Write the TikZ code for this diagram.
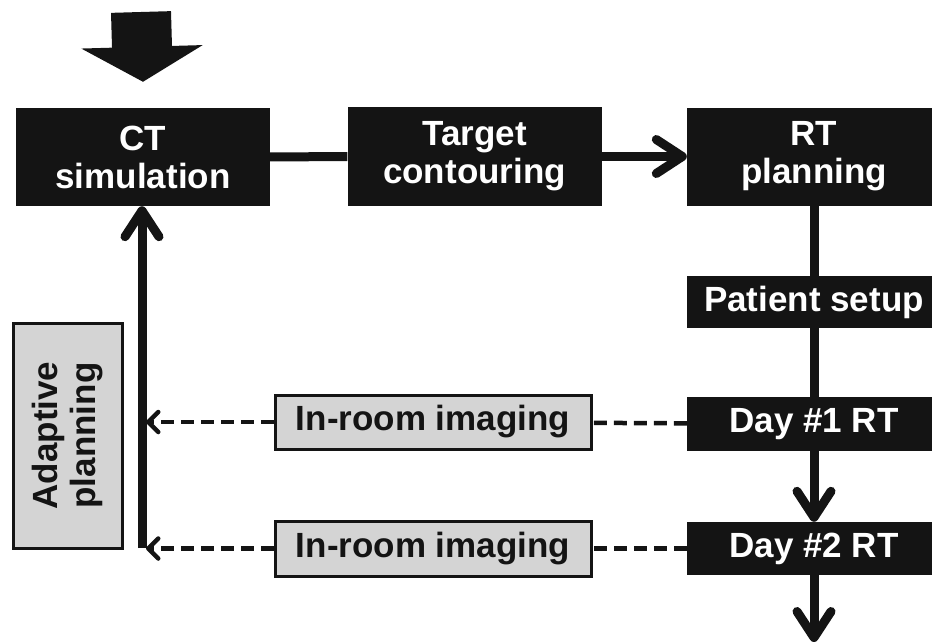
\documentclass[tikz,border=0pt]{standalone}
\usepackage{fontspec}
\setmainfont{Liberation Sans}
\usetikzlibrary{arrows.meta, positioning, calc}

\definecolor{boxblack}{HTML}{141414}
\definecolor{boxgray}{HTML}{D4D4D4}

\newcommand{\boxfont}{\fontsize{35}{38}\selectfont\bfseries}

\tikzset{
	stepbox/.style={fill=boxblack, text=white, font=\boxfont, align=center, inner sep=0pt, minimum width=254pt},
	imagebox/.style={draw=boxblack, line width=3pt, fill=boxgray, text=boxblack, font=\boxfont, align=center, inner sep=0pt},
	flow/.style={line width=9pt, draw=boxblack},
	flowarrow/.style={flow, -{Straight Barb[length=26pt, width=34pt, round]}},
	feedback/.style={line width=4.5pt, draw=boxblack, dash pattern=on 13pt off 7pt},
	feedbackarrow/.style={feedback, -{Straight Barb[length=10pt, width=20pt, round]}}
}

\begin{document}
\begin{tikzpicture}[x=1pt, y=-1pt]
	\useasboundingbox (0,0) rectangle (932,642);
		% main chain of steps
		\node[stepbox, minimum height=98pt] (ct)     at (143, 157)   {CT\\simulation};
		\node[stepbox, minimum height=99pt] (target) at (474.5, 156.5) {Target\\contouring};
		\node[stepbox, minimum height=98pt] (rt)     at (814, 156.5) {RT\\planning};
		\node[stepbox, minimum height=52pt] (setup)  at (814, 302)   {Patient setup};
		\node[stepbox, minimum height=54pt] (day1)   at (814, 424)   {Day \#1 RT};
		\node[stepbox, minimum height=53pt] (day2)   at (814, 548.5) {Day \#2 RT};
		% imaging and adaptive loop
		\node[imagebox, minimum width=316pt, minimum height=54pt] (img1) at (433, 422)   {In-room imaging};
		\node[imagebox, minimum width=316pt, minimum height=55pt] (img2) at (433, 548.5) {In-room imaging};
		\node[imagebox, minimum width=225pt, minimum height=109pt, rotate=90] (adapt) at (67.5, 435.5) {Adaptive\\planning};
		\coordinate (loop)   at (142, 548);
		\coordinate (entry)  at (141, 12);
		\coordinate (next)   at (814, 642);

		% block arrow into the CT step
		\draw[line width=60pt, draw=boxblack, -{Triangle[length=35pt, width=120pt]}, fill=boxblack] (entry) -- ([yshift=26pt]ct.north);

		% solid flow
		\draw[flow] (ct) -- (target);
		\draw[flowarrow] (target) -- (rt);
		\draw[flow] (rt) -- (setup);
		\draw[flow] (setup) -- (day1);
		\draw[flowarrow] (day1) -- (day2);
		\draw[flowarrow] (day2) -- (next);
		\draw[flowarrow] (loop) -- (loop |- ct.south);

		% feedback from imaging
		\draw[feedback] (day1) -- (img1);
		\draw[feedback] (day2) -- (img2);
		\draw[feedbackarrow] (img1) -- ([xshift=4pt]loop |- img1.west);
		\draw[feedbackarrow] (img2) -- ([xshift=4pt]loop |- img2.west);
	\end{tikzpicture}
\end{document}
